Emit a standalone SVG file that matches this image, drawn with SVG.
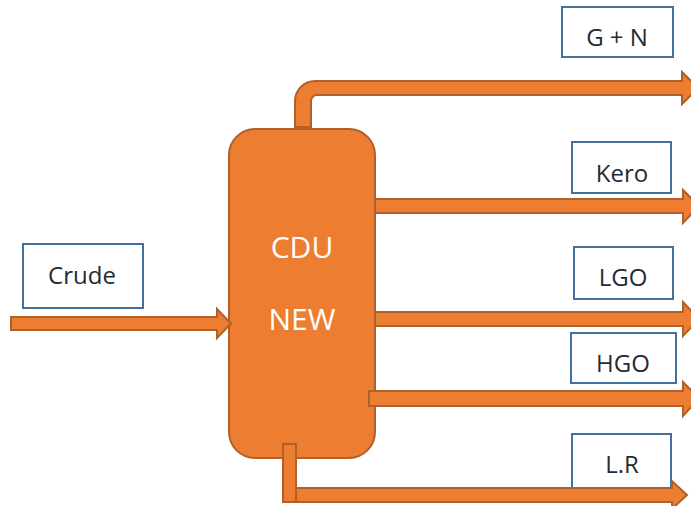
<svg xmlns="http://www.w3.org/2000/svg" width="691" height="506" viewBox="0 0 691 506">
  <style>
    .label rect { fill: #FFFFFF; stroke: #41719C; stroke-width: 2; }
    .label text { font-family: "Open Sans", "Noto Sans", sans-serif; font-size: 24px; fill: #222B35; text-anchor: middle; }
    .unit rect { fill: #ED7D31; stroke: #B0602A; stroke-width: 2; }
    .unit text { font-family: "Open Sans", "Noto Sans", sans-serif; font-size: 30px; fill: #FFFFFF; text-anchor: middle; }
    .pipe { fill: #ED7D31; stroke: #B0602A; stroke-width: 2; stroke-linejoin: miter; }
  </style>

  <!-- distillation column -->
  <g id="cdu" class="unit">
    <rect x="229" y="129" width="146" height="329" rx="26" ry="26"/>
    <text x="302" y="258">CDU</text>
    <text x="302" y="330">NEW</text>
  </g>

  <!-- stream labels -->
  <g id="crude" class="label">
    <rect x="23" y="244" width="120" height="64"/>
    <text x="82" y="284">Crude</text>
  </g>
  <g id="gn" class="label">
    <rect x="562" y="7" width="111" height="50"/>
    <text x="617" y="46">G + N</text>
  </g>
  <g id="kero" class="label">
    <rect x="572" y="142" width="99" height="51"/>
    <text x="622" y="182">Kero</text>
  </g>
  <g id="lgo" class="label">
    <rect x="574" y="247" width="99" height="52"/>
    <text x="623" y="286">LGO</text>
  </g>
  <g id="hgo" class="label">
    <rect x="571" y="333" width="105" height="50"/>
    <text x="623" y="372">HGO</text>
  </g>
  <g id="lr" class="label">
    <rect x="572" y="434" width="99" height="54"/>
    <text x="622" y="473">L.R</text>
  </g>

  <!-- block arrows for feed and product streams -->
  <g id="connectors">
    <!-- crude feed -->
    <polygon class="pipe" points="11,317 217,317 217,309 231,323.5 217,338 217,330 11,330"/>
    <!-- overhead G + N -->
    <path class="pipe" d="M295,127 L295,101 A20,20 0 0 1 315,81 L682,81 L682,72 L698,88 L682,104 L682,95 L317,95 A6,6 0 0 0 311,101 L311,127 Z"/>
    <!-- kero side draw -->
    <polygon class="pipe" points="375,199 683,199 683,190 699,206 683,223 683,213 375,213"/>
    <!-- LGO side draw -->
    <polygon class="pipe" points="375,312 683,312 683,302 699,319 683,336 683,326 375,326"/>
    <!-- HGO side draw -->
    <polygon class="pipe" points="369,391 683,391 683,382 699,398.5 683,416 683,406 369,406"/>
    <!-- long residue from the bottom -->
    <polygon class="pipe" points="295,488 672,488 672,481 687,495 672,509 672,502 295,502"/>
    <rect class="pipe" x="283" y="444" width="13" height="58"/>
  </g>
</svg>
